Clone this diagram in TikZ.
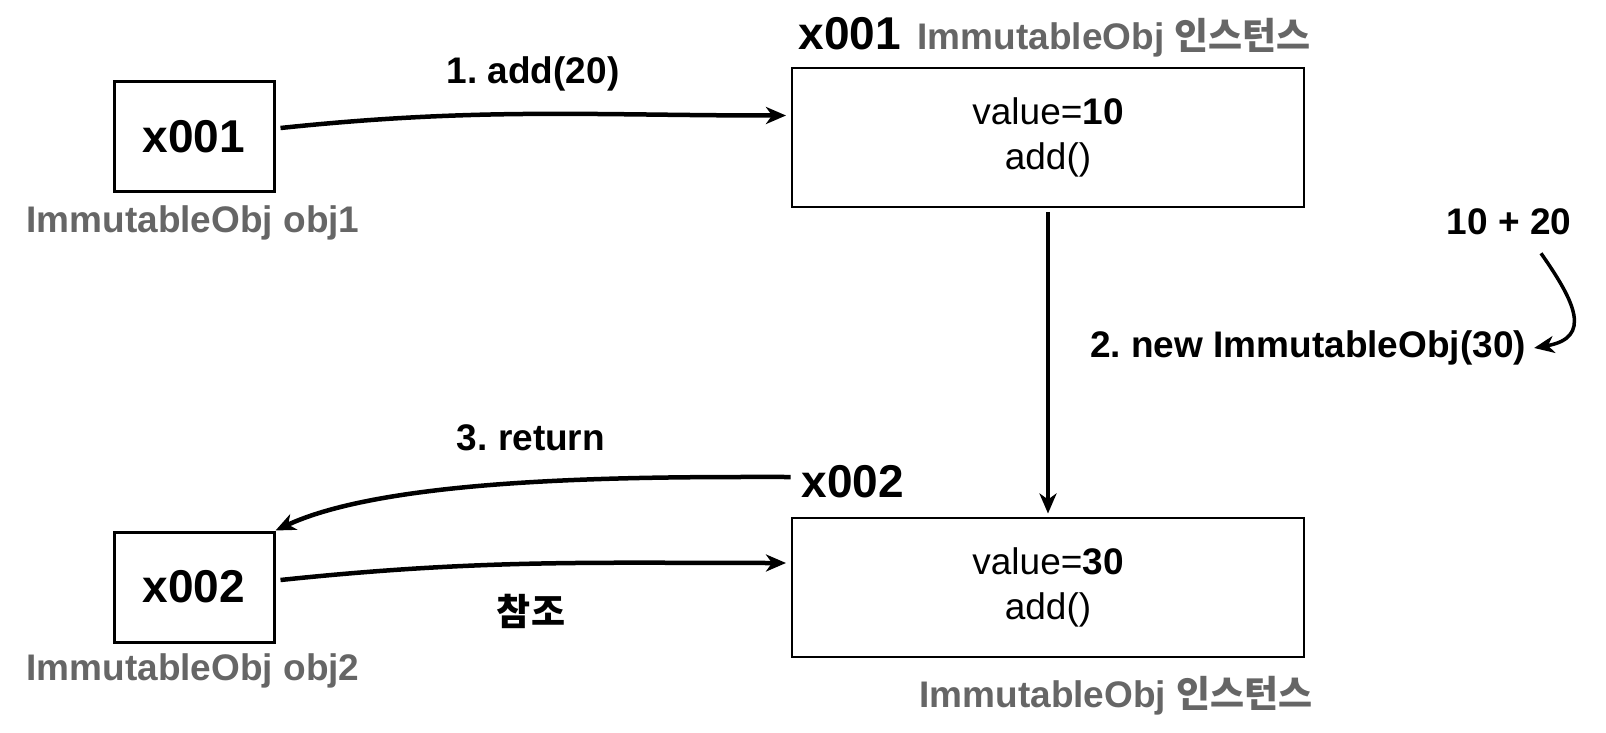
\documentclass[tikz,border=0pt]{standalone}
\usepackage{fontspec}
\setmainfont{Liberation Sans}
\newfontfamily\kor{Noto Sans CJK KR}
\usetikzlibrary{positioning, arrows.meta}
\definecolor{capgray}{HTML}{666666}
\frenchspacing
\tikzset{
  objbox/.style={draw, line width=2pt, minimum width=512pt, minimum height=139pt,
                 align=center, font=\fontsize{37}{45}\selectfont},
  refbox/.style={draw, line width=3pt, minimum width=160pt, minimum height=110pt,
                 font=\fontsize{46}{50}\selectfont\bfseries},
  addr/.style={inner sep=0pt, font=\fontsize{46}{50}\selectfont\bfseries},
  varcap/.style={inner sep=0pt, text=capgray, font=\fontsize{37}{40}\selectfont\bfseries},
  lbl/.style={inner sep=0pt, font=\fontsize{37}{40}\selectfont\bfseries},
  flow/.style={-{Stealth[length=20pt, width=17pt, inset=6pt]}, line width=4.5pt}
}

\begin{document}
\begin{tikzpicture}[x=1pt, y=1pt]
  \useasboundingbox (0,0) rectangle (1606,732);
  % references (left)
  \node[refbox] (objA) at (194,595) {x001};
  \node[varcap] (varA) at (193,509) {ImmutableObj obj1};
  \node[refbox] (objB) at (194,145) {x002};
  \node[varcap] (varB) at (193,61) {ImmutableObj obj2};
  % instances (right)
  \node[objbox] (inst1) at (1048,594.5) {value=\textbf{10}\\add()};
  \node[addr] (ttl1) at (850,698) {x001};
  \node[varcap, anchor=base west] (kind1) at ([xshift=16pt]ttl1.base east) {ImmutableObj {\kor 인스턴스}};
  \node[objbox] (inst2) at (1048,145) {value=\textbf{30}\\add()};
  \node[addr] (ttl2) at (853,250) {x002};
  \node[varcap] (kind2) at (1116,36) {ImmutableObj {\kor 인스턴스}};
  % step labels
  \node[lbl] (addlbl) at (533,658) {1. add(20)};
  \node[lbl] (sum) at (1509,510) {10 + 20};
  \node[lbl] (newobj) at (1308,384) {2. new ImmutableObj(30)};
  \node[lbl] (retlbl) at (531,294) {3. return};
  \node[lbl] (reflbl) at (531,121) {\kor 참조};
  % connectors
  \draw[flow, shorten >=5pt] ([xshift=5pt, yshift=9pt]objA.east) to[out=6, in=180] ([yshift=22pt]inst1.west);
  \draw[flow, line width=3.5pt, shorten <=4pt, shorten >=3pt] (inst1.south) -- (inst2.north);
  \draw[flow, line width=3.5pt] ([xshift=32pt, yshift=-18pt]sum.south) to[out=-55, in=10, looseness=1.6] ([xshift=8pt]newobj.east);
  \draw[flow] ([xshift=-11pt, yshift=5pt]ttl2.west) to[out=180, in=25, looseness=0.65] (objB.north east);
  \draw[flow, shorten >=5pt] ([xshift=5pt, yshift=7pt]objB.east) to[out=6, in=180] ([yshift=24pt]inst2.west);
\end{tikzpicture}
\end{document}
